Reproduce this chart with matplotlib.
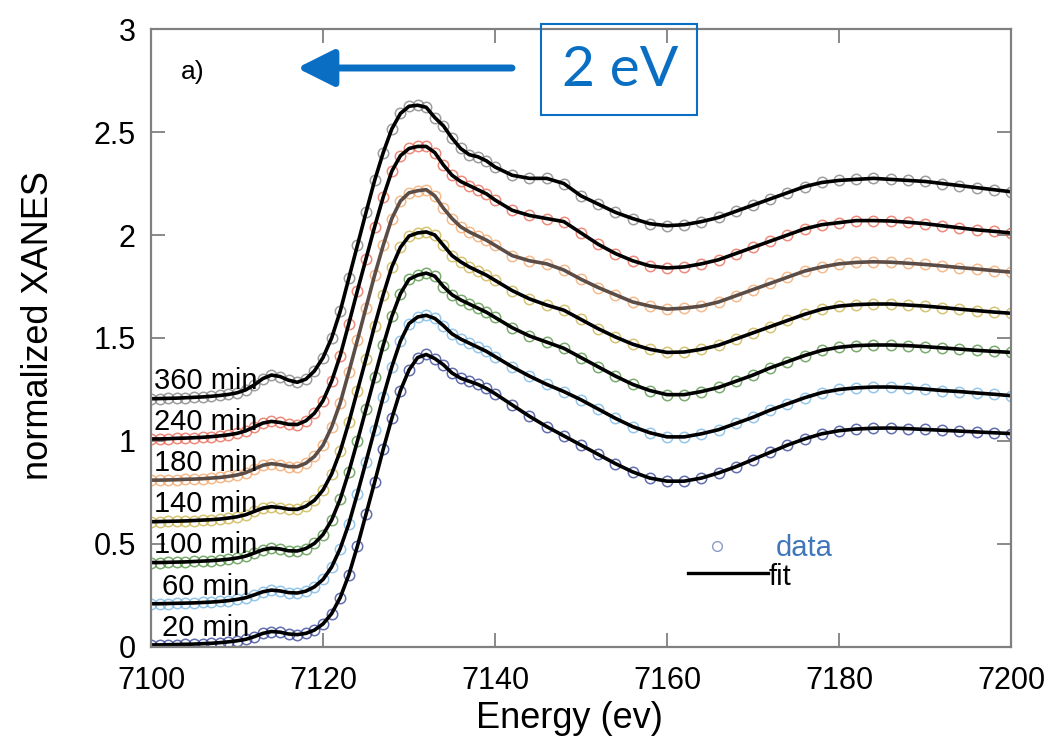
import numpy as np
import matplotlib.pyplot as plt
from matplotlib.patches import Rectangle
from matplotlib.lines import Line2D

plt.rcParams['font.family'] = ['Liberation Sans', 'DejaVu Sans']

# Энергии точек: шаг 1 эВ до 7140, потом 2 эВ
energy = np.concatenate([np.arange(7100, 7141), np.arange(7142, 7201, 2)])

labels = ["20 min", "60 min", "100 min", "140 min", "180 min", "240 min", "360 min"]
offsets = [0.0, 0.2, 0.4, 0.6, 0.8, 1.0, 1.2]
data_colors = ["#2f3f93", "#72b4e2", "#4f8f3f", "#c9b146", "#f2a466", "#e8644f", "#7d7d7d"]
fit_colors = ["black", "black", "black", "black", "#5c4c46", "black", "black"]

# нормированный XANES без сдвига
xanes_20 = [0.010, 0.010, 0.011, 0.012, 0.013, 0.014, 0.016, 0.018, 0.021, 0.025, 0.030, 0.037, 0.050, 0.066, 0.075, 0.072, 0.063,
            0.060, 0.066, 0.082, 0.112, 0.162, 0.240, 0.350, 0.490, 0.645, 0.800, 0.960, 1.110, 1.245, 1.345, 1.405, 1.420,
            1.400, 1.370, 1.330, 1.305, 1.290, 1.275, 1.255, 1.230,
            1.175, 1.120, 1.070, 1.025, 0.980, 0.935, 0.890, 0.850, 0.820, 0.805, 0.805, 0.820, 0.845, 0.875, 0.910,
            0.945, 0.980, 1.010, 1.035, 1.050, 1.058, 1.062, 1.063, 1.060, 1.056, 1.052, 1.048, 1.044, 1.040, 1.036]
xanes_60 = [0.010, 0.010, 0.011, 0.012, 0.013, 0.014, 0.016, 0.018, 0.021, 0.025, 0.031, 0.039, 0.053, 0.068, 0.076, 0.072, 0.064,
            0.062, 0.071, 0.092, 0.128, 0.188, 0.278, 0.398, 0.545, 0.700, 0.855, 1.015, 1.160, 1.285, 1.370, 1.402, 1.410,
            1.395, 1.360, 1.320, 1.295, 1.275, 1.255, 1.235, 1.210,
            1.160, 1.115, 1.075, 1.040, 1.000, 0.955, 0.910, 0.870, 0.840, 0.820, 0.820, 0.835, 0.855, 0.885, 0.915,
            0.950, 0.980, 1.010, 1.035, 1.050, 1.058, 1.062, 1.062, 1.058, 1.052, 1.045, 1.040, 1.033, 1.027, 1.020]
xanes_100 = [0.010, 0.010, 0.011, 0.012, 0.013, 0.015, 0.017, 0.019, 0.022, 0.026, 0.032, 0.041, 0.056, 0.072, 0.080, 0.076, 0.067,
             0.066, 0.078, 0.103, 0.146, 0.216, 0.318, 0.450, 0.600, 0.755, 0.910, 1.065, 1.205, 1.315, 1.385, 1.405, 1.415,
             1.400, 1.350, 1.310, 1.285, 1.265, 1.245, 1.225, 1.200,
             1.150, 1.110, 1.080, 1.050, 1.005, 0.960, 0.915, 0.875, 0.845, 0.825, 0.825, 0.840, 0.860, 0.890, 0.920,
             0.955, 0.985, 1.015, 1.040, 1.055, 1.063, 1.066, 1.066, 1.063, 1.058, 1.052, 1.046, 1.040, 1.035, 1.030]
xanes_140 = [0.008, 0.009, 0.010, 0.011, 0.012, 0.014, 0.016, 0.018, 0.021, 0.026, 0.032, 0.042, 0.058, 0.074, 0.081, 0.077, 0.069,
             0.068, 0.083, 0.112, 0.162, 0.240, 0.350, 0.490, 0.645, 0.800, 0.960, 1.110, 1.245, 1.340, 1.395, 1.410, 1.415,
             1.400, 1.350, 1.300, 1.270, 1.245, 1.225, 1.205, 1.180,
             1.130, 1.090, 1.060, 1.035, 0.990, 0.945, 0.905, 0.870, 0.845, 0.830, 0.832, 0.845, 0.865, 0.895, 0.925,
             0.955, 0.985, 1.015, 1.040, 1.055, 1.062, 1.065, 1.065, 1.060, 1.055, 1.048, 1.040, 1.033, 1.026, 1.020]
xanes_180 = [0.010, 0.010, 0.011, 0.012, 0.014, 0.015, 0.017, 0.020, 0.023, 0.028, 0.035, 0.046, 0.064, 0.082, 0.090, 0.085, 0.076,
             0.075, 0.092, 0.125, 0.180, 0.268, 0.385, 0.535, 0.690, 0.848, 1.005, 1.150, 1.280, 1.365, 1.405, 1.415, 1.420,
             1.390, 1.330, 1.280, 1.240, 1.215, 1.195, 1.175, 1.150,
             1.100, 1.075, 1.060, 1.030, 0.985, 0.945, 0.910, 0.875, 0.855, 0.840, 0.845, 0.855, 0.875, 0.905, 0.935,
             0.965, 0.995, 1.025, 1.045, 1.060, 1.067, 1.070, 1.068, 1.063, 1.057, 1.050, 1.042, 1.035, 1.027, 1.020]
xanes_240 = [0.010, 0.010, 0.011, 0.013, 0.014, 0.016, 0.018, 0.021, 0.025, 0.030, 0.037, 0.049, 0.068, 0.087, 0.095, 0.090, 0.081,
             0.080, 0.098, 0.135, 0.196, 0.290, 0.415, 0.570, 0.730, 0.885, 1.040, 1.185, 1.310, 1.385, 1.420, 1.430, 1.430,
             1.400, 1.340, 1.290, 1.260, 1.240, 1.220, 1.200, 1.170,
             1.120, 1.095, 1.080, 1.065, 1.010, 0.955, 0.910, 0.875, 0.850, 0.840, 0.845, 0.860, 0.880, 0.910, 0.940,
             0.970, 1.000, 1.030, 1.050, 1.060, 1.070, 1.070, 1.068, 1.062, 1.055, 1.045, 1.035, 1.025, 1.018, 1.010]
xanes_360 = [0.005, 0.006, 0.007, 0.008, 0.010, 0.012, 0.014, 0.017, 0.021, 0.026, 0.034, 0.048, 0.072, 0.103, 0.120, 0.113, 0.095,
             0.085, 0.100, 0.140, 0.205, 0.300, 0.430, 0.590, 0.750, 0.910, 1.065, 1.200, 1.315, 1.390, 1.425, 1.430, 1.420,
             1.370, 1.330, 1.270, 1.220, 1.190, 1.180, 1.160, 1.130,
             1.090, 1.075, 1.075, 1.050, 0.990, 0.950, 0.910, 0.880, 0.855, 0.845, 0.850, 0.865, 0.885, 0.915, 0.945,
             0.975, 1.005, 1.035, 1.055, 1.065, 1.070, 1.075, 1.070, 1.065, 1.060, 1.050, 1.040, 1.030, 1.020, 1.010]
spectra = [xanes_20, xanes_60, xanes_100, xanes_140, xanes_180, xanes_240, xanes_360]

x_ticks = [7100, 7120, 7140, 7160, 7180, 7200]
y_ticks = [0, 0.5, 1, 1.5, 2, 2.5, 3]
y_tick_labels = ["0", "0.5", "1", "1.5", "2", "2.5", "3"]

fig = plt.figure(figsize=(10.54, 7.44), dpi=100)
ax = fig.add_axes([0.1433, 0.1304, 0.8159, 0.8306])

for vals, off, lab, dc, fc in zip(spectra, offsets, labels, data_colors, fit_colors):
    y = np.array(vals) + off
    ax.plot(energy, y, "o", mfc="none", mec=dc, ms=7.5, mew=1.1, alpha=0.75)
    ax.plot(energy, y, "-", color=fc, lw=2.6)
    ax.text(7106.4, off + 0.025, lab, ha="center", va="bottom", fontsize=21)

ax.set_xlim(7100, 7200)
ax.set_ylim(0, 3)
ax.set_xticks(x_ticks)
ax.set_yticks(y_ticks)
ax.set_yticklabels(y_tick_labels)
ax.tick_params(direction="in", length=10, width=1.3, color="#808080",
               labelsize=22, top=True, right=True)
ax.tick_params(axis="x", pad=14)
ax.tick_params(axis="y", pad=11)
for s in ax.spines.values():
    s.set_color("#808080")
    s.set_linewidth(1.6)

ax.set_xlabel("Energy (ev)", fontsize=26)
ax.xaxis.set_label_coords(0.487, -0.088)
ax.set_ylabel("normalized XANES", fontsize=26)
ax.yaxis.set_label_coords(-0.11, 0.52)
ax.text(7103.5, 2.79, "a)", fontsize=19, va="center")

# ручная легенда
ax.add_line(Line2D([0.658], [0.163], marker="o", mfc="none", mec="#8c9cc8", ms=7, mew=1.0,
                   transform=ax.transAxes))
ax.text(0.727, 0.160, "data", color="#3f77ba", fontsize=21, va="center", transform=ax.transAxes)
ax.add_line(Line2D([0.624, 0.717], [0.120, 0.120], color="black", lw=2.4, transform=ax.transAxes))
ax.text(0.718, 0.114, "fit", color="black", fontsize=21, va="center", transform=ax.transAxes)

# сдвиг края на 2 эВ
blue = "#0a6fc2"
ax.annotate("", xy=(297 / 1054, 1 - 68 / 744), xytext=(512 / 1054, 1 - 68 / 744),
            xycoords="figure fraction", textcoords="figure fraction", annotation_clip=False,
            arrowprops=dict(arrowstyle="-|>,head_length=0.8,head_width=0.4", lw=5,
                            color=blue, mutation_scale=28, shrinkA=0, shrinkB=0))
fig.add_artist(Rectangle((541 / 1054, 1 - 115 / 744), 156 / 1054, 91 / 744,
                         transform=fig.transFigure, fill=False, ec=blue, lw=1.5))
fig.text(620 / 1054, 1 - 70 / 744, "2 eV", color=blue, fontsize=41, family=["Lato", "DejaVu Sans"],
         ha="center", va="center")

fig.savefig("out.png", dpi=100)
